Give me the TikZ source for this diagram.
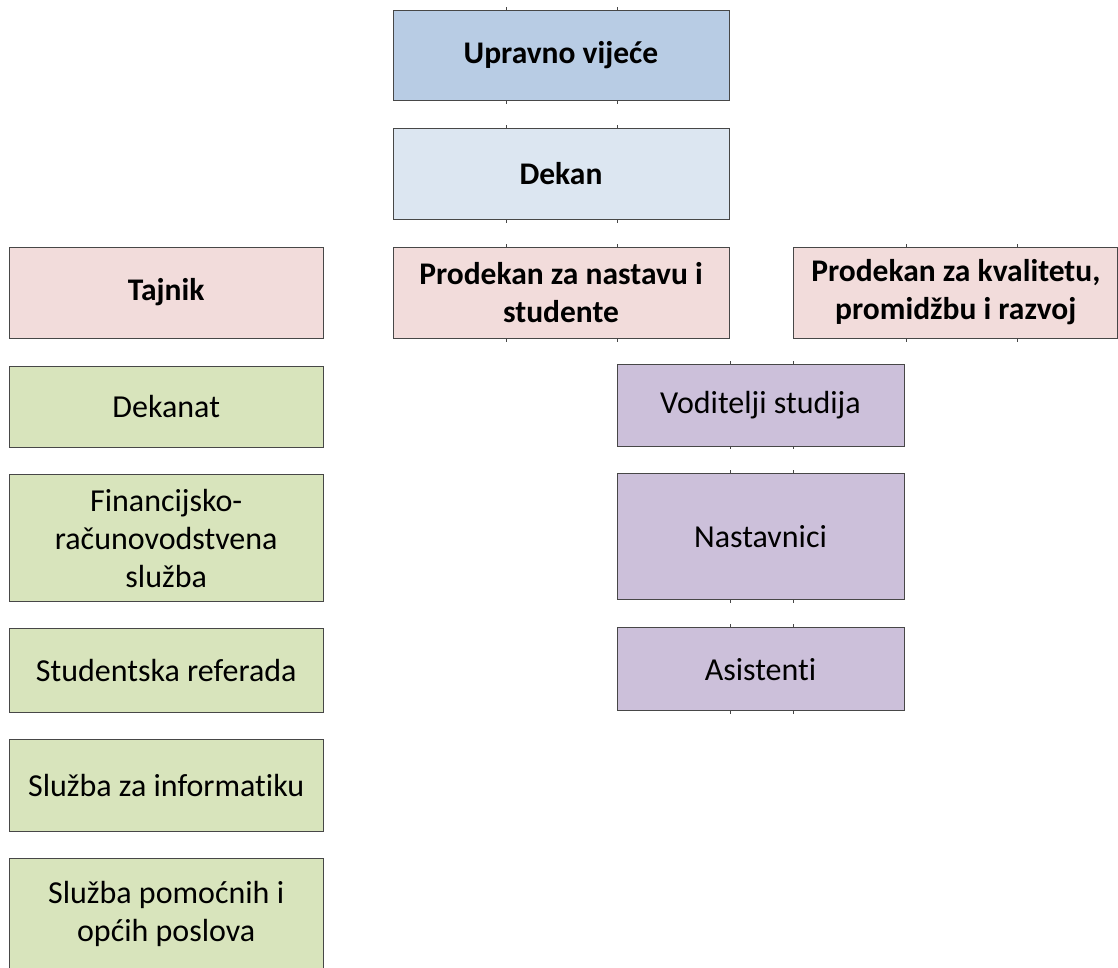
\documentclass[tikz,border=0pt]{standalone}
\usepackage{fontspec}
\setmainfont{Carlito}[Ligatures=NoCommon]
\usetikzlibrary{positioning}

\definecolor{vijeceblue}{HTML}{B8CCE4}
\definecolor{dekanblue}{HTML}{DCE6F1}
\definecolor{prodekanpink}{HTML}{F2DCDB}
\definecolor{sluzbagreen}{HTML}{D8E4BC}
\definecolor{nastavapurple}{HTML}{CCC0DA}

\begin{document}
\begin{tikzpicture}[x=1pt,y=-1pt,node distance=27pt,
	unit/.style={
		% The shape:
		rectangle,
		inner sep=0pt,
		% The border:
		draw=black!72,
		line width=0.8pt,
		% Font
		align=center,
		font=\fontsize{32}{38}\selectfont
		},
	head/.style={unit, font=\fontsize{31.5}{38}\selectfont\bfseries},
	gridtick/.style={draw=black!72, line width=0.8pt}]

	\useasboundingbox (0,0) rectangle (1118,967);

	% top of the chart
	\node (uprava) [head,fill=vijeceblue,minimum width=336pt,minimum height=90pt] at (561,55.5) {Upravno vijeće};
	\node (dekan) [head,fill=dekanblue,minimum width=336pt,minimum height=91pt,below=of uprava] {Dekan};
	\node (nastava) [head,fill=prodekanpink,minimum width=336pt,minimum height=91pt,below=of dekan] {Prodekan za nastavu i\\studente};
	\node (tajnik) [head,fill=prodekanpink,minimum width=314pt,minimum height=91pt,left=69pt of nastava] {Tajnik};
	\node (kvaliteta) [head,fill=prodekanpink,minimum width=324pt,minimum height=91pt,right=64pt of nastava] {Prodekan za kvalitetu,\\promidžbu i razvoj};

	% services under the secretary
	\node (dekanat) [unit,fill=sluzbagreen,minimum width=314pt,minimum height=81pt,below=of tajnik] {Dekanat};
	\node (financije) [unit,fill=sluzbagreen,minimum width=314pt,minimum height=127pt,below=of dekanat] {Financijsko-\\računovodstvena\\služba};
	\node (referada) [unit,fill=sluzbagreen,minimum width=314pt,minimum height=84pt,below=26pt of financije] {Studentska referada};
	\node (informatika) [unit,fill=sluzbagreen,minimum width=314pt,minimum height=92pt,below=26pt of referada] {Služba za informatiku};
	\node (pomocni) [unit,fill=sluzbagreen,minimum width=314pt,minimum height=112pt,below=26pt of informatika] {Služba pomoćnih i\\općih poslova};

	% teaching staff
	\node (voditelji) [unit,fill=nastavapurple,minimum width=287pt,minimum height=82pt] at (760.5,405) {Voditelji studija};
	\node (nastavnici) [unit,fill=nastavapurple,minimum width=287pt,minimum height=126pt,below=of voditelji] {Nastavnici};
	\node (asistenti) [unit,fill=nastavapurple,minimum width=287pt,minimum height=83pt,below=of nastavnici] {Asistenti};

	% little grid marks on the box edges
	\foreach \unitname/\cols in {uprava/{506,617},dekan/{506,617},nastava/{506,617},
		kvaliteta/{906,1017},voditelji/{730,793},nastavnici/{730,793},asistenti/{730,793}}
		\foreach \x in \cols {
			\draw[gridtick] (\x,0 |- \unitname.north) -- ++(0,-3);
			\draw[gridtick] (\x,0 |- \unitname.south) -- ++(0,3);
		}

\end{tikzpicture}
\end{document}
